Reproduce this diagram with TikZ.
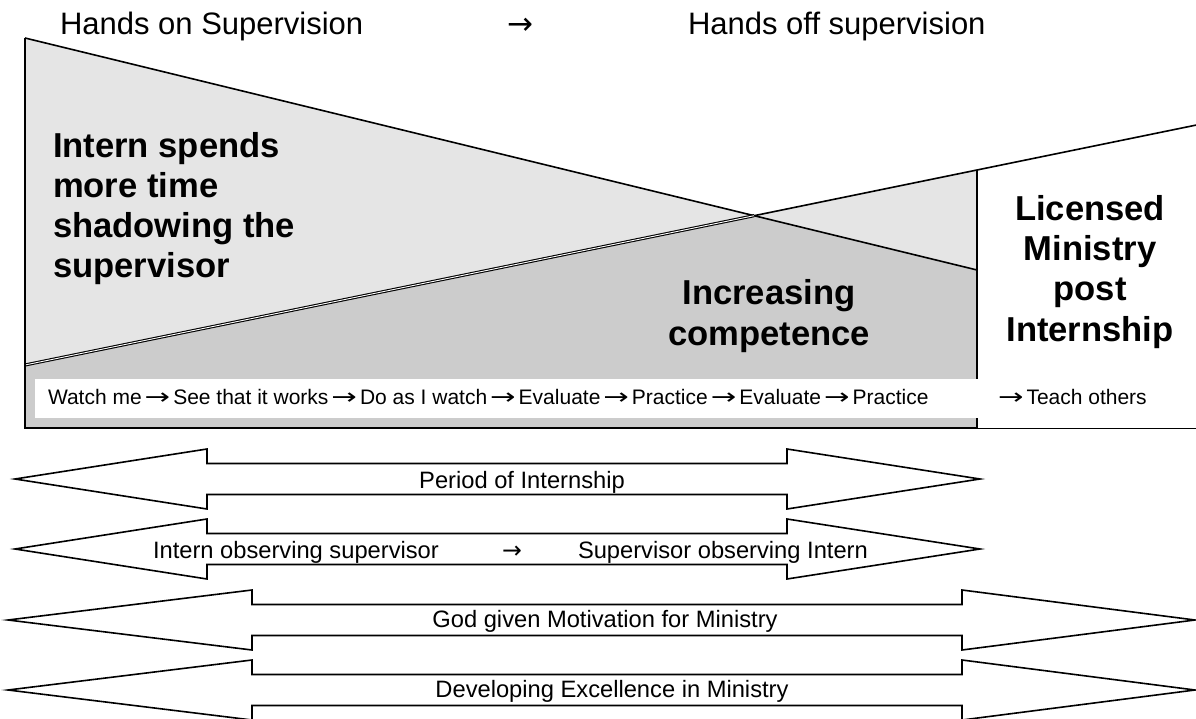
\documentclass[tikz,border=0pt]{standalone}
\usepackage{fontspec}
\usepackage{graphicx}
\setmainfont{Liberation Sans}
\newfontfamily\arrowfont{DejaVu Sans}
\newcommand\ra{{\arrowfont →}}
\newcommand\wra{\hspace{3pt}\scalebox{1.45}[1.05]{\arrowfont →}\hspace{3pt}}
\newcommand\hdfont{\fontsize{31}{37}\selectfont}
\newcommand\bgfont{\bfseries\fontsize{34.6}{40}\selectfont}
\newcommand\smfont{\fontsize{21}{24}\selectfont}
\newcommand\arfont{\fontsize{23.7}{28}\selectfont}
\newcommand\blockarrow[5]{%
  \draw[arrowbox] (#1,#5) -- (#2,#5-30) -- (#2,#5-15.5) -- (#3,#5-15.5) -- (#3,#5-30)
    -- (#4,#5) -- (#3,#5+30) -- (#3,#5+15.5) -- (#2,#5+15.5) -- (#2,#5+30) -- cycle;}
\begin{document}
\begin{tikzpicture}[x=1pt,y=-1pt,
  lightfill/.style={fill=gray!20},
  darkfill/.style={fill=gray!40},
  edge/.style={line width=1.6pt},
  arrowbox/.style={draw=black, fill=white, line width=1.6pt, line join=miter},
  txt/.style={inner sep=0pt, outer sep=0pt}]
\useasboundingbox (0,0) rectangle (1196,719);
% key points
\coordinate (A) at (25,38);
\coordinate (B) at (977,270);
\coordinate (C) at (977,170);
\coordinate (D) at (25,365);
\coordinate (E) at (1196,125.1);
\coordinate (F) at (977,428);
\coordinate (G) at (25,428);
\coordinate (H) at (1196,428);
\coordinate (I) at (intersection of A--B and D--C);
% fills
\fill[lightfill] (A) -- (B) -- (C) -- (D) -- cycle;
\fill[darkfill] (D) -- (I) -- (B) -- (F) -- (G) -- cycle;
\fill[white] (35,379) rectangle (1185,418);
% lines
\draw[edge] (A) -- (B);
\draw[line width=1.1pt, double=white, double distance=0.9pt] (D) -- (I);
\draw[edge] (I) -- (E);
\draw[edge] (C) -- (977,379);
\draw[edge] (977,418) -- (F);
\draw[line width=2pt] (A) -- (G) -- (F);
\draw[line width=1pt] (F) -- (H);
% header
\node[txt, anchor=base west, font=\hdfont] (hon) at (60,35) {Hands on Supervision};
\node[txt, anchor=base, font=\hdfont] (harr) at (520,35) {\ra};
\node[txt, anchor=base west, font=\hdfont] (hoff) at (688,35) {Hands off supervision};
% bold texts
\node[txt, anchor=base west, font=\bgfont] (s1) at (53,158) {Intern spends};
\node[txt, anchor=base west, font=\bgfont] (s2) at (53,198) {more time};
\node[txt, anchor=base west, font=\bgfont] (s3) at (53,238) {shadowing the};
\node[txt, anchor=base west, font=\bgfont] (s4) at (53,277) {supervisor};
\node[txt, anchor=base, font=\bgfont] (c1) at (769,305) {Increasing};
\node[txt, anchor=base, font=\bgfont] (c2) at (769,345) {competence};
\node[txt, anchor=base, font=\bgfont] (l1) at (1090,221) {Licensed};
\node[txt, anchor=base, font=\bgfont] (l2) at (1090,261) {Ministry};
\node[txt, anchor=base, font=\bgfont] (l3) at (1090,301) {post};
\node[txt, anchor=base, font=\bgfont] (l4) at (1090,341) {Internship};
% steps
\node[txt, anchor=base west, font=\smfont] (steps) at (48,404) {Watch me\wra See that it works\wra Do as I watch\wra Evaluate\wra Practice\wra Evaluate\wra Practice};
\node[txt, anchor=base west, font=\smfont] (teach) at (995,404) {\wra Teach others};
% block arrows
\blockarrow{15}{207}{787}{980}{479}
\blockarrow{15}{207}{787}{980}{549}
\blockarrow{8}{252}{962}{1195}{620}
\blockarrow{8}{252}{962}{1195}{690}
\node[txt, anchor=base, font=\arfont] (per) at (522,488) {Period of Internship};
\node[txt, anchor=base west, font=\arfont] (obs1) at (153,558) {Intern observing supervisor};
\node[txt, anchor=base, font=\arfont] (obsarr) at (512,558) {\ra};
\node[txt, anchor=base west, font=\arfont] (obs2) at (578,558) {Supervisor observing Intern};
\node[txt, anchor=base, font=\arfont] (god) at (605,627) {God given Motivation for Ministry};
\node[txt, anchor=base, font=\arfont] (dev) at (612,697) {Developing Excellence in Ministry};
\end{tikzpicture}
\end{document}
